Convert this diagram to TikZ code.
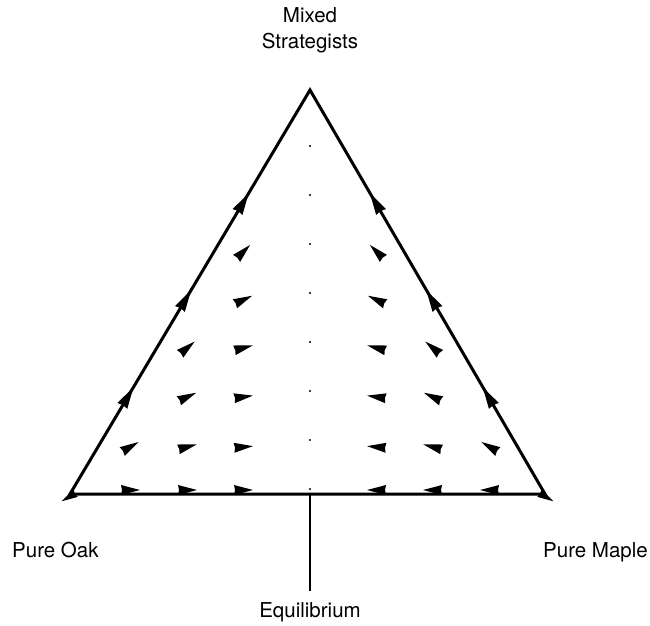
\documentclass[tikz,border=0pt]{standalone}
\usepackage{fontspec}
\setmainfont{TeX Gyre Heros}
\usetikzlibrary{calc}

\begin{document}
\begin{tikzpicture}[
	  x=1pt, y=-1pt,
	  caption/.style={font=\fontsize{20.5}{26}\selectfont, inner sep=0pt, align=center},
	  side/.style={line width=3pt, line join=miter},
	  flowhead/.pic={\fill (10,0) -- (-9,5) -- (-8,0) -- (-9,-5) -- cycle;},
	  restpoint/.style={fill=black}
	]
	\useasboundingbox (0,0) rectangle (650,625);

	\coordinate (oak) at (70,494);
	\coordinate (maple) at (545,494);
	\coordinate (mixed) at (310,90);
	\coordinate (eq) at (310,494);

	\node (mixedlabel) [caption, anchor=north] at (310,7) {Mixed\\Strategists};
	\node (oaklabel) [caption, anchor=base west] at (12,557) {Pure Oak};
	\node (maplelabel) [caption, anchor=base east] at (648,557) {Pure Maple};
	\node (eqlabel) [caption, anchor=base] at (310,617) {Equilibrium};

	\draw [side] (oak) -- (mixed) -- (maple) -- cycle;
	\draw [line width=1.4pt] (eq) -- ([yshift=11pt]eqlabel.north);

	% rest points on the centre line
	\foreach \y in {146,195,...,490}
	  \fill [restpoint] (310,\y) circle (1.1pt);

	% flow inside the simplex, mirrored about the centre line
	\foreach \x/\y/\a in {130/447/30, 187/447/15, 243/447/5,
	                      187/397/25, 243/397/8,
	                      187/348/40, 243/348/15,
	                      243/300/25,
	                      243/252/45,
	                      130/490/0, 187/490/0, 243/490/0}
	{
	  \pic [rotate=\a] at (\x,\y) {flowhead};
	  \pic [rotate=180-\a] at (620-\x,\y) {flowhead};
	}

	% flow along the sides, towards the mixed corner
	\foreach \t in {0.24,0.48,0.72}
	{
	  \pic [rotate=59.3, scale=1.15] at ($(oak)!\t!(mixed)$) {flowhead};
	  \pic [rotate=120.7, scale=1.15] at ($(maple)!\t!(mixed)$) {flowhead};
	}

	% pure corners
	\pic [rotate=210, scale=0.85] at ($(oak)+(-1,3)$) {flowhead};
	\pic [rotate=-30, scale=0.85] at ($(maple)+(1,3)$) {flowhead};

\end{tikzpicture}
\end{document}
